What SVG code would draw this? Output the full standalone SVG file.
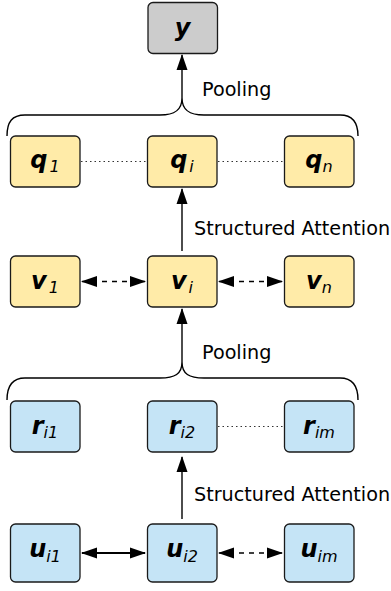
<svg xmlns="http://www.w3.org/2000/svg" width="391" height="591" viewBox="0 0 391 591">
<style>
.box{stroke:#1a1a1a;stroke-width:1.3}
.y{fill:#cccccc}.yl{fill:#ffeba8}.bl{fill:#c5e4f6}
.lab{font-family:"DejaVu Sans",sans-serif;text-anchor:middle;fill:#000}
.m{font-size:24px;font-weight:bold;font-style:italic}
.s{font-size:16px;font-style:italic;font-weight:normal}
.t{font-family:"DejaVu Sans",sans-serif;font-size:19.2px;fill:#000}
.ln{stroke:#000;stroke-width:1.4;fill:none}
.dash{stroke:#000;stroke-width:1.4;stroke-dasharray:5,5;fill:none}
.dot{stroke:#333;stroke-width:1;stroke-dasharray:1.5,3;fill:none}
</style>
<defs>
<marker id="ah" viewBox="0 0 16 12" refX="15" refY="6" markerWidth="16" markerHeight="12" markerUnits="userSpaceOnUse" orient="auto-start-reverse">
<path d="M0,0.5 L16,6 L0,11.5 Z" fill="#000"/>
</marker>
</defs>
<g id="connectors">
<path class="ln" d="M7,136 C7,122 12,115 25,115 L160,115 C175,115 182,110 182,98 C182,110 189,115 204,115 L340,115 C352,115 358,122 358,136"/>
<line class="ln" x1="182" y1="98" x2="182" y2="55" marker-end="url(#ah)"/>
<line class="dot" x1="81" y1="161.5" x2="147" y2="161.5"/>
<line class="dot" x1="218" y1="161.5" x2="284" y2="161.5"/>
<line class="ln" x1="182" y1="251" x2="182" y2="189" marker-end="url(#ah)"/>
<line class="dash" x1="82" y1="281.5" x2="145" y2="281.5" marker-start="url(#ah)" marker-end="url(#ah)"/>
<line class="dash" x1="219" y1="281.5" x2="282" y2="281.5" marker-start="url(#ah)" marker-end="url(#ah)"/>
<path class="ln" d="M7,400 C7,386 12,378 25,378 L160,378 C175,378 182,374 182,362 C182,374 189,378 204,378 L340,378 C352,378 358,386 358,400"/>
<line class="ln" x1="182" y1="362" x2="182" y2="309" marker-end="url(#ah)"/>
<line class="dot" x1="218" y1="426.5" x2="284" y2="426.5"/>
<line class="ln" x1="182" y1="519" x2="182" y2="457" marker-end="url(#ah)"/>
<line class="ln" style="stroke-width:2" x1="82" y1="553" x2="145" y2="553" marker-start="url(#ah)" marker-end="url(#ah)"/>
<line class="dash" x1="219" y1="553" x2="282" y2="553" marker-start="url(#ah)" marker-end="url(#ah)"/>
<text class="t" x="202" y="96">Pooling</text>
<text class="t" x="194" y="235">Structured Attention</text>
<text class="t" x="202" y="359">Pooling</text>
<text class="t" x="194" y="501">Structured Attention</text>
</g>
<g id="y"><rect class="box y" x="148" y="2.5" width="69.5" height="51" rx="5"/><text class="lab m" x="182.5" y="36">y</text></g>
<g id="q1"><rect class="box yl" x="10.5" y="136" width="69.5" height="51" rx="5"/><text class="lab" x="45" y="168"><tspan class="m">q</tspan><tspan class="s" dx="2" dy="4">1</tspan></text></g>
<g id="qi"><rect class="box yl" x="147.5" y="136" width="69.5" height="51" rx="5"/><text class="lab" x="182" y="168"><tspan class="m">q</tspan><tspan class="s" dx="2" dy="4">i</tspan></text></g>
<g id="qn"><rect class="box yl" x="284.5" y="136" width="69.5" height="51" rx="5"/><text class="lab" x="319" y="168"><tspan class="m">q</tspan><tspan class="s" dy="4">n</tspan></text></g>
<g id="v1"><rect class="box yl" x="10.5" y="256" width="69.5" height="51" rx="5"/><text class="lab" x="45" y="289"><tspan class="m">v</tspan><tspan class="s" dx="2" dy="4">1</tspan></text></g>
<g id="vi"><rect class="box yl" x="147.5" y="256" width="69.5" height="51" rx="5"/><text class="lab" x="182" y="289"><tspan class="m">v</tspan><tspan class="s" dx="2" dy="4">i</tspan></text></g>
<g id="vn"><rect class="box yl" x="284.5" y="256" width="69.5" height="51" rx="5"/><text class="lab" x="319" y="289"><tspan class="m">v</tspan><tspan class="s" dy="4">n</tspan></text></g>
<g id="ri1"><rect class="box bl" x="10.5" y="401" width="69.5" height="51" rx="5"/><text class="lab" x="45" y="434"><tspan class="m">r</tspan><tspan class="s" dy="4">i1</tspan></text></g>
<g id="ri2"><rect class="box bl" x="147.5" y="401" width="69.5" height="51" rx="5"/><text class="lab" x="182" y="434"><tspan class="m">r</tspan><tspan class="s" dy="4">i2</tspan></text></g>
<g id="rim"><rect class="box bl" x="284.5" y="401" width="69.5" height="51" rx="5"/><text class="lab" x="319" y="434"><tspan class="m">r</tspan><tspan class="s" dy="4">im</tspan></text></g>
<g id="ui1"><rect class="box bl" x="10.5" y="524" width="69.5" height="58" rx="5"/><text class="lab" x="45" y="557"><tspan class="m">u</tspan><tspan class="s" dy="5">i1</tspan></text></g>
<g id="ui2"><rect class="box bl" x="147.5" y="524" width="69.5" height="58" rx="5"/><text class="lab" x="182" y="557"><tspan class="m">u</tspan><tspan class="s" dy="5">i2</tspan></text></g>
<g id="uim"><rect class="box bl" x="284.5" y="524" width="69.5" height="58" rx="5"/><text class="lab" x="319" y="557"><tspan class="m">u</tspan><tspan class="s" dy="5">im</tspan></text></g>
</svg>
